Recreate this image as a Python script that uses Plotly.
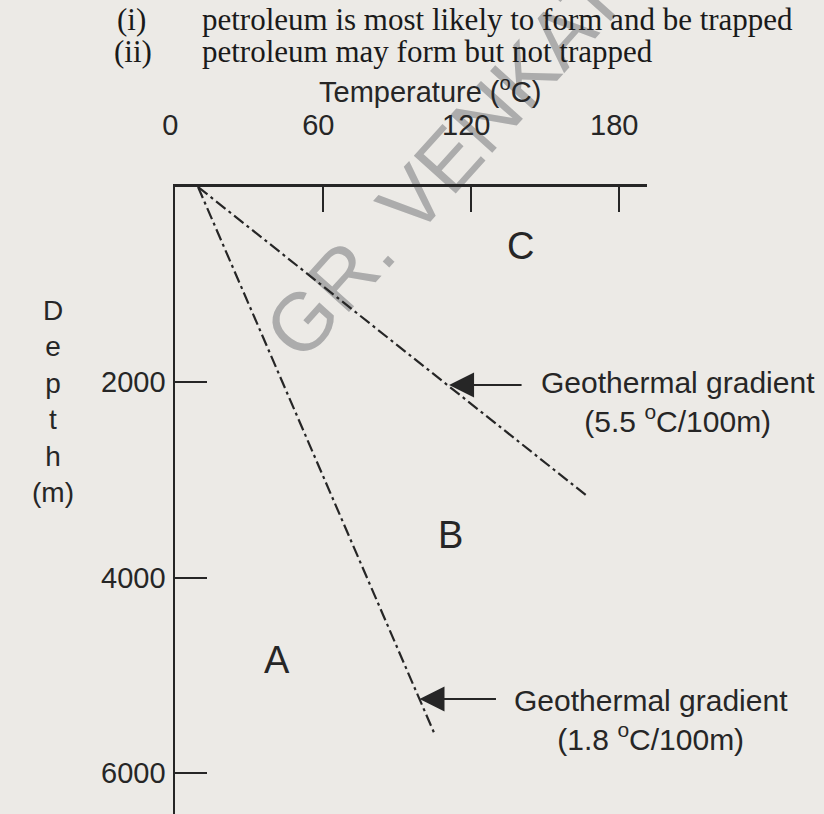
import plotly.graph_objects as go

W, H = 824, 814

# Geothermal gradient lines (temperature in degC, depth in m), surface to deepest drawn point
grad_55_temp = [9.2, 167.5]
grad_55_depth = [0, 3174]
grad_18_temp = [9.2, 105.3]
grad_18_depth = [0, 5611]

# Points on each gradient line picked out by the arrows
arrow_temp = [111.0, 99.0]
arrow_depth = [2027, 5242]
grad_labels = ["5.5", "1.8"]

temp_ticks = [0, 60, 120, 180]
depth_ticks = [2000, 4000, 6000]

zone_names = ["C", "B", "A"]

header_marks = ["(i)", "(ii)"]
header_lines = [
    "petroleum is most likely to form and be trapped",
    "petroleum may form but not trapped",
]

INK = "#262626"
SANS = "Liberation Sans, Arial, Helvetica, sans-serif"
SERIF = "Liberation Serif, Times New Roman, serif"
PAPER = "#ECEAE6"

# plot-area frame in figure pixels
LEFT, RIGHT, TOP = 165, 644, 187
X_PER_DEG = 2.505
Y_PER_M = 586 / 6000


def px(x):
    return x / W


def py(y):
    return 1 - y / H


fig = go.Figure()

dash = "12px,4px,3px,4px"
for temps, depths in [(grad_55_temp, grad_55_depth), (grad_18_temp, grad_18_depth)]:
    fig.add_trace(go.Scatter(x=temps, y=depths, mode="lines",
                             line=dict(color=INK, width=2.2, dash=dash),
                             hoverinfo="skip", showlegend=False))

ann = []

# arrows pointing at the gradient lines
for t, d, tail in zip(arrow_temp, arrow_depth, [74, 78]):
    ann.append(dict(x=t, y=d, xref="x", yref="y", text="", showarrow=True,
                    ax=tail, ay=0, arrowhead=2, arrowsize=2.5, arrowwidth=2,
                    arrowcolor=INK, standoff=0))

# gradient captions
for lab, (cx, cy) in zip(grad_labels, [(676, 402), (648, 720)]):
    ann.append(dict(x=px(cx), y=py(cy), xref="paper", yref="paper",
                    text=f"Geothermal gradient<br>({lab} <sup>o</sup>C/100m)",
                    showarrow=False, xanchor="center", yanchor="middle",
                    align="center", font=dict(family=SANS, size=30, color=INK)))

# zone letters
for name, (cx, cy) in zip(zone_names, [(516, 246), (445, 535), (268, 660)]):
    ann.append(dict(x=px(cx), y=py(cy), xref="paper", yref="paper", text=name,
                    showarrow=False, xanchor="center", yanchor="middle",
                    font=dict(family=SANS, size=38, color=INK)))

# axis titles
ann.append(dict(x=px(424), y=py(90), xref="paper", yref="paper",
                text="Temperature (<sup>o</sup>C)", showarrow=False,
                xanchor="center", yanchor="middle",
                font=dict(family=SANS, size=29, color=INK)))
ann.append(dict(x=px(41), y=py(402), xref="paper", yref="paper",
                text="D<br>e<br>p<br>t<br>h<br>(m)", showarrow=False,
                xanchor="center", yanchor="middle", align="center",
                font=dict(family=SANS, size=28, color=INK)))

# question lines above the figure
for mark, line, cy, mx in zip(header_marks, header_lines, [20, 51], [104, 101]):
    ann.append(dict(x=px(mx), y=py(cy), xref="paper", yref="paper", text=mark,
                    showarrow=False, xanchor="left", yanchor="middle",
                    font=dict(family=SERIF, size=31, color="#1a1a1a")))
    ann.append(dict(x=px(190), y=py(cy), xref="paper", yref="paper", text=line,
                    showarrow=False, xanchor="left", yanchor="middle",
                    font=dict(family=SERIF, size=31, color="#1a1a1a")))

# faint diagonal imprint behind the drawing
shapes = [dict(type="line", xref="paper", yref="paper",
               x0=px(490 - 280), y0=py(95 + 310), x1=px(490 + 280), y1=py(95 - 310),
               line=dict(width=0, color="rgba(0,0,0,0)"), layer="below",
               label=dict(text="GR. VENKATESH", textangle=-48, textposition="middle",
                          xanchor="center", yanchor="middle",
                          font=dict(family=SANS, size=82, color="#acacac")))]

fig.update_layout(
    width=W, height=H, autosize=False,
    margin=dict(l=0, r=0, t=0, b=0),
    paper_bgcolor=PAPER, plot_bgcolor="rgba(0,0,0,0)",
    showlegend=False,
    annotations=ann, shapes=shapes,
    xaxis=dict(domain=[px(LEFT), px(RIGHT)],
               range=[0, (RIGHT - LEFT) / X_PER_DEG],
               side="top", showline=True, linewidth=2.5, linecolor=INK,
               ticks="inside", ticklen=25, tickwidth=2, tickcolor=INK,
               tickvals=temp_ticks, ticktext=[str(v) for v in temp_ticks],
               ticklabelstandoff=38, ticklabelshift=-5,
               tickfont=dict(family=SANS, size=29, color=INK),
               showgrid=False, zeroline=False, fixedrange=True),
    yaxis=dict(domain=[0, py(TOP)],
               range=[(H - TOP) / Y_PER_M, 0],
               showline=True, linewidth=2, linecolor=INK,
               ticks="inside", ticklen=32, tickwidth=2, tickcolor=INK,
               tickvals=depth_ticks, ticktext=[str(v) for v in depth_ticks],
               ticklabelstandoff=2,
               tickfont=dict(family=SANS, size=29, color=INK),
               showgrid=False, zeroline=False, fixedrange=True),
)

fig.write_html("out.html")
